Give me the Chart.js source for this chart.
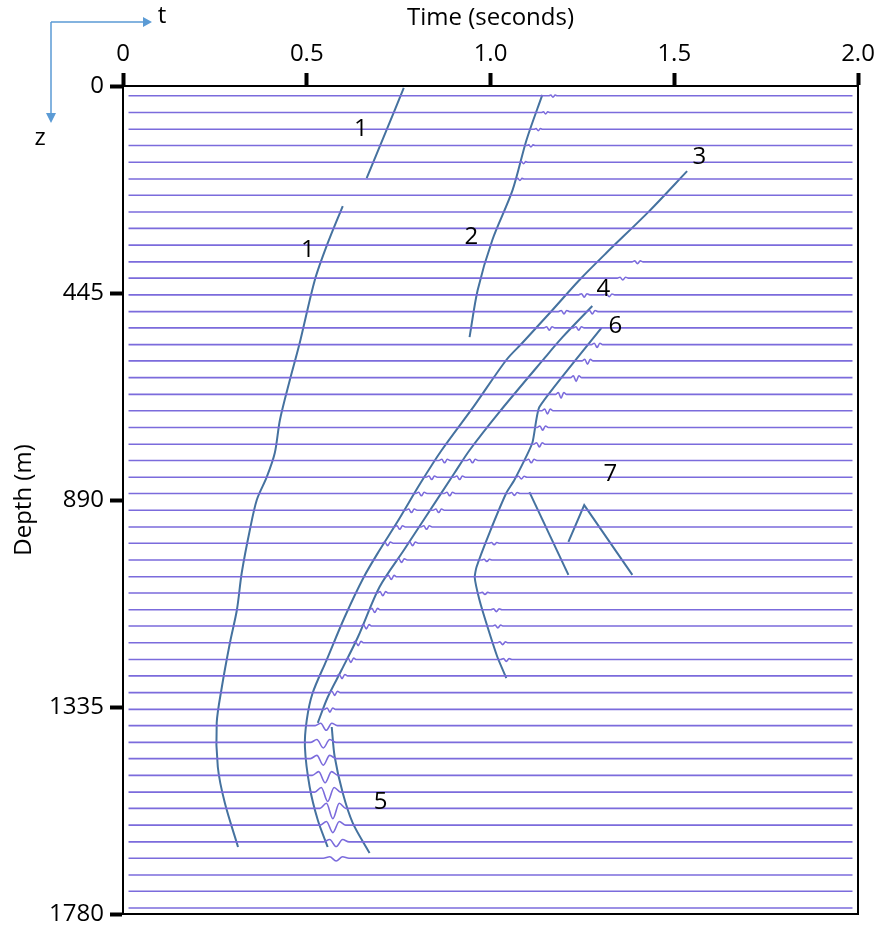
<!DOCTYPE html>
<html>
<head>
<meta charset="utf-8">
<script src="https://cdn.jsdelivr.net/npm/chart.js@4.4.0/dist/chart.umd.min.js"></script>
<style>
  body { margin: 0; background: #fff; }
  #wrap { width: 881px; height: 930px; }
</style>
</head>
<body>
<div id="wrap"><canvas id="vsp"></canvas></div>
<script>
// axis ticks
const timeTicks = [0, 0.5, 1.0, 1.5, 2.0];
const timeTickLabels = ['0', '0.5', '1.0', '1.5', '2.0'];
const depthTicks = [0, 445, 890, 1335, 1780];

// receiver depths (m), one trace each
const traceDepths = [21, 57, 93, 128, 164, 200, 235, 271, 306, 342,
  378, 413, 449, 485, 520, 556, 591, 627, 663, 698,
  734, 770, 805, 841, 876, 912, 948, 983, 1019, 1055,
  1090, 1126, 1161, 1197, 1233, 1268, 1304, 1340, 1375, 1411,
  1446, 1482, 1518, 1553, 1589, 1625, 1660, 1696, 1731, 1767];
const traceStart = 0.015;
const traceEnd = 1.985;

// wiggle shape: [time offset / half width, amplitude fraction]
const waveletShape = [[-1, 0], [-0.5, -0.5], [0, 1], [0.5, -0.5], [1, 0]];
// [trace index, time (s), amplitude (m), half width (s)]
const arrivals = [
  [0, 1.17, 3, 0.012], [1, 1.15, 3, 0.012], [2, 1.13, 3, 0.012], [3, 1.11, 3, 0.012], [4, 1.09, 3, 0.012], [5, 1.08, 3, 0.012],
  [10, 1.40, 4, 0.015], [11, 1.36, 4, 0.015],
  [12, 1.255, 5, 0.015], [12, 1.323, 4, 0.015], [13, 1.20, 5, 0.015], [13, 1.277, 5, 0.015],
  [14, 1.16, 5, 0.015], [14, 1.24, 5, 0.015], [15, 1.29, 6, 0.015], [16, 1.264, 7, 0.015],
  [17, 1.233, 8, 0.015], [18, 1.192, 8, 0.015], [19, 1.155, 7, 0.015], [20, 1.142, 6, 0.015],
  [21, 1.133, 6, 0.015], [22, 1.111, 5, 0.015], [23, 1.084, 4, 0.015], [24, 1.065, 4, 0.015],
  [22, 0.875, 5, 0.015], [23, 0.840, 5, 0.015], [24, 0.812, 5, 0.015], [25, 0.785, 5, 0.015], [26, 0.753, 5, 0.015], [27, 0.72, 5, 0.015],
  [22, 0.951, 5, 0.015], [23, 0.916, 5, 0.015], [24, 0.889, 5, 0.015], [25, 0.859, 5, 0.015], [26, 0.826, 5, 0.015],
  [27, 0.788, 5, 0.015], [28, 0.758, 5, 0.015], [29, 0.730, 6, 0.015], [30, 0.707, 6, 0.015], [31, 0.685, 6, 0.015],
  [32, 0.662, 6, 0.015], [33, 0.640, 6, 0.015], [34, 0.620, 6, 0.015], [35, 0.596, 6, 0.015], [36, 0.576, 6, 0.015], [37, 0.563, 6, 0.015],
  [27, 1.01, 3, 0.015], [28, 0.99, 3, 0.015], [30, 0.985, 3, 0.015], [31, 1.016, 4, 0.015], [32, 1.02, 4, 0.015], [33, 1.033, 4, 0.015], [34, 1.043, 4, 0.015],
  [38, 0.553, 10, 0.03], [39, 0.545, 12, 0.035], [40, 0.545, 14, 0.035], [41, 0.55, 16, 0.035], [42, 0.557, 20, 0.035],
  [43, 0.571, 22, 0.035], [44, 0.571, 16, 0.035], [45, 0.58, 10, 0.035], [46, 0.58, 6, 0.035]
];

// picked events (time s, depth m)
const curve1aTime = [0.764, 0.717, 0.663];
const curve1aDepth = [4, 95, 198];
const curve1bTime = [0.598, 0.557, 0.522, 0.481, 0.454, 0.427, 0.413, 0.391, 0.364, 0.345, 0.323, 0.310, 0.291, 0.269, 0.255, 0.258, 0.277, 0.313];
const curve1bDepth = [258, 338, 417, 552, 632, 718, 789, 841, 890, 955, 1047, 1126, 1197, 1292, 1369, 1464, 1541, 1636];
const curve2Time = [1.141, 1.098, 1.060, 1.005, 0.965, 0.943];
const curve2Depth = [19, 116, 224, 331, 439, 540];
const curve3Time = [1.535, 1.432, 1.315, 1.242, 1.168, 1.087, 1.043, 0.957, 0.867, 0.810, 0.745, 0.698, 0.655, 0.603, 0.554, 0.516, 0.500, 0.495, 0.508, 0.530, 0.557];
const curve3Depth = [183, 269, 359, 417, 482, 552, 589, 686, 783, 853, 939, 998, 1056, 1142, 1234, 1305, 1363, 1421, 1507, 1578, 1636];
const curve4Time = [1.277, 1.196, 1.147, 1.024, 0.943, 0.902, 0.823, 0.764, 0.698, 0.639, 0.595, 0.557, 0.530];
const curve4Depth = [473, 540, 585, 701, 783, 832, 927, 998, 1077, 1185, 1255, 1314, 1369];
const curve5Time = [0.568, 0.576, 0.598, 0.625, 0.671];
const curve5Depth = [1378, 1442, 1520, 1584, 1649];
const curve6Time = [1.302, 1.133, 1.114, 1.065, 1.043, 0.997, 0.962, 0.957, 0.970, 0.992, 1.019, 1.043];
const curve6Depth = [520, 690, 767, 847, 875, 961, 1034, 1056, 1105, 1163, 1228, 1273];
const curve7aTime = [1.106, 1.212];
const curve7aDepth = [873, 1051];
const curve7bTime = [1.212, 1.255, 1.386];
const curve7bDepth = [980, 901, 1051];

// event numbers
const labelTexts = ['1', '1', '2', '3', '4', '5', '6', '7'];
const labelTimes = [0.647, 0.503, 0.948, 1.568, 1.307, 0.701, 1.340, 1.326];
const labelDepths = [92, 353, 325, 153, 436, 1539, 516, 834];

const FONT = 'Open Sans';
const FSIZE = 24;
const traceColor = '#7b6bdc';
const curveColor = '#45729f';

const traceSets = traceDepths.map((d, i) => {
  const pts = [{ x: traceStart, y: d }];
  arrivals.filter(a => a[0] === i).sort((a, b) => a[1] - b[1]).forEach(a => {
    waveletShape.forEach(s => pts.push({ x: a[1] + s[0] * a[3], y: d + s[1] * a[2] }));
  });
  pts.push({ x: traceEnd, y: d });
  return {
    data: pts,
    borderColor: traceColor,
    borderWidth: 1.6,
    pointRadius: 0,
    showLine: true,
    cubicInterpolationMode: 'monotone'
  };
});

const curves = [
  [curve1aTime, curve1aDepth, 0.3], [curve1bTime, curve1bDepth, 0.3], [curve2Time, curve2Depth, 0.3],
  [curve3Time, curve3Depth, 0.3], [curve4Time, curve4Depth, 0.3], [curve5Time, curve5Depth, 0.3],
  [curve6Time, curve6Depth, 0.15], [curve7aTime, curve7aDepth, 0], [curve7bTime, curve7bDepth, 0]
];
const curveSets = curves.map(([t, d, tension]) => ({
  data: t.map((v, i) => ({ x: v, y: d[i] })),
  borderColor: curveColor,
  borderWidth: 2,
  pointRadius: 0,
  showLine: true,
  tension: tension
}));

const decorations = {
  id: 'decorations',
  afterDatasetsDraw(chart) {
    const { ctx, chartArea: a, scales: { x, y } } = chart;
    ctx.save();
    // right and bottom frame
    ctx.strokeStyle = '#000';
    ctx.lineWidth = 2;
    ctx.beginPath();
    ctx.moveTo(a.right, a.top);
    ctx.lineTo(a.right, a.bottom);
    ctx.lineTo(a.left, a.bottom);
    ctx.stroke();

    // event numbers
    ctx.fillStyle = '#000';
    ctx.font = FSIZE + 'px "' + FONT + '"';
    ctx.textAlign = 'center';
    ctx.textBaseline = 'middle';
    labelTexts.forEach((s, i) => {
      ctx.fillText(s, x.getPixelForValue(labelTimes[i]), y.getPixelForValue(labelDepths[i]));
    });

    // t / z direction arrows
    ctx.strokeStyle = '#5b9bd5';
    ctx.fillStyle = '#5b9bd5';
    ctx.lineWidth = 1.5;
    ctx.beginPath();
    ctx.moveTo(51, 22); ctx.lineTo(144, 22);
    ctx.moveTo(51, 22); ctx.lineTo(51, 114);
    ctx.stroke();
    ctx.beginPath();
    ctx.moveTo(143, 17); ctx.lineTo(152, 22); ctx.lineTo(143, 27); ctx.closePath();
    ctx.moveTo(46, 113); ctx.lineTo(51, 123); ctx.lineTo(56, 113); ctx.closePath();
    ctx.fill();
    ctx.fillStyle = '#000';
    ctx.fillText('t', 162, 16);
    ctx.fillText('z', 40, 138);
    ctx.restore();
  }
};

new Chart(document.getElementById('vsp'), {
  type: 'scatter',
  data: { datasets: traceSets.concat(curveSets) },
  options: {
    responsive: true,
    maintainAspectRatio: false,
    animation: false,
    devicePixelRatio: 1,
    layout: { padding: { top: 0, left: 0, right: 23, bottom: 16 } },
    plugins: { legend: { display: false }, tooltip: { enabled: false } },
    scales: {
      x: {
        type: 'linear',
        position: 'top',
        min: 0,
        max: 2,
        afterBuildTicks: s => { s.ticks = timeTicks.map(v => ({ value: v })); },
        afterFit: s => { s.height = 86; },
        ticks: {
          callback: v => timeTickLabels[timeTicks.indexOf(v)],
          font: { family: FONT, size: FSIZE },
          color: '#000',
          padding: 4,
          maxRotation: 0,
          autoSkip: false
        },
        grid: { drawOnChartArea: false, drawTicks: true, tickLength: 13, tickWidth: 4, tickColor: '#000' },
        border: { display: true, color: '#000', width: 2 },
        title: { display: true, text: 'Time (seconds)', font: { family: FONT, size: FSIZE }, color: '#000', padding: { top: 4, bottom: 0 } }
      },
      y: {
        type: 'linear',
        reverse: true,
        min: 0,
        max: 1780,
        afterBuildTicks: s => { s.ticks = depthTicks.map(v => ({ value: v })); },
        afterFit: s => { s.width = 123; },
        ticks: {
          callback: v => String(v),
          font: { family: FONT, size: FSIZE, lineHeight: 0.8 },
          color: '#000',
          padding: 6,
          autoSkip: false
        },
        grid: { drawOnChartArea: false, drawTicks: true, tickLength: 13, tickWidth: 4, tickColor: '#000' },
        border: { display: true, color: '#000', width: 2 },
        title: { display: true, text: 'Depth (m)', font: { family: FONT, size: FSIZE }, color: '#000', padding: { top: 10, bottom: 0 } }
      }
    }
  },
  plugins: [decorations]
});
</script>
</body>
</html>
